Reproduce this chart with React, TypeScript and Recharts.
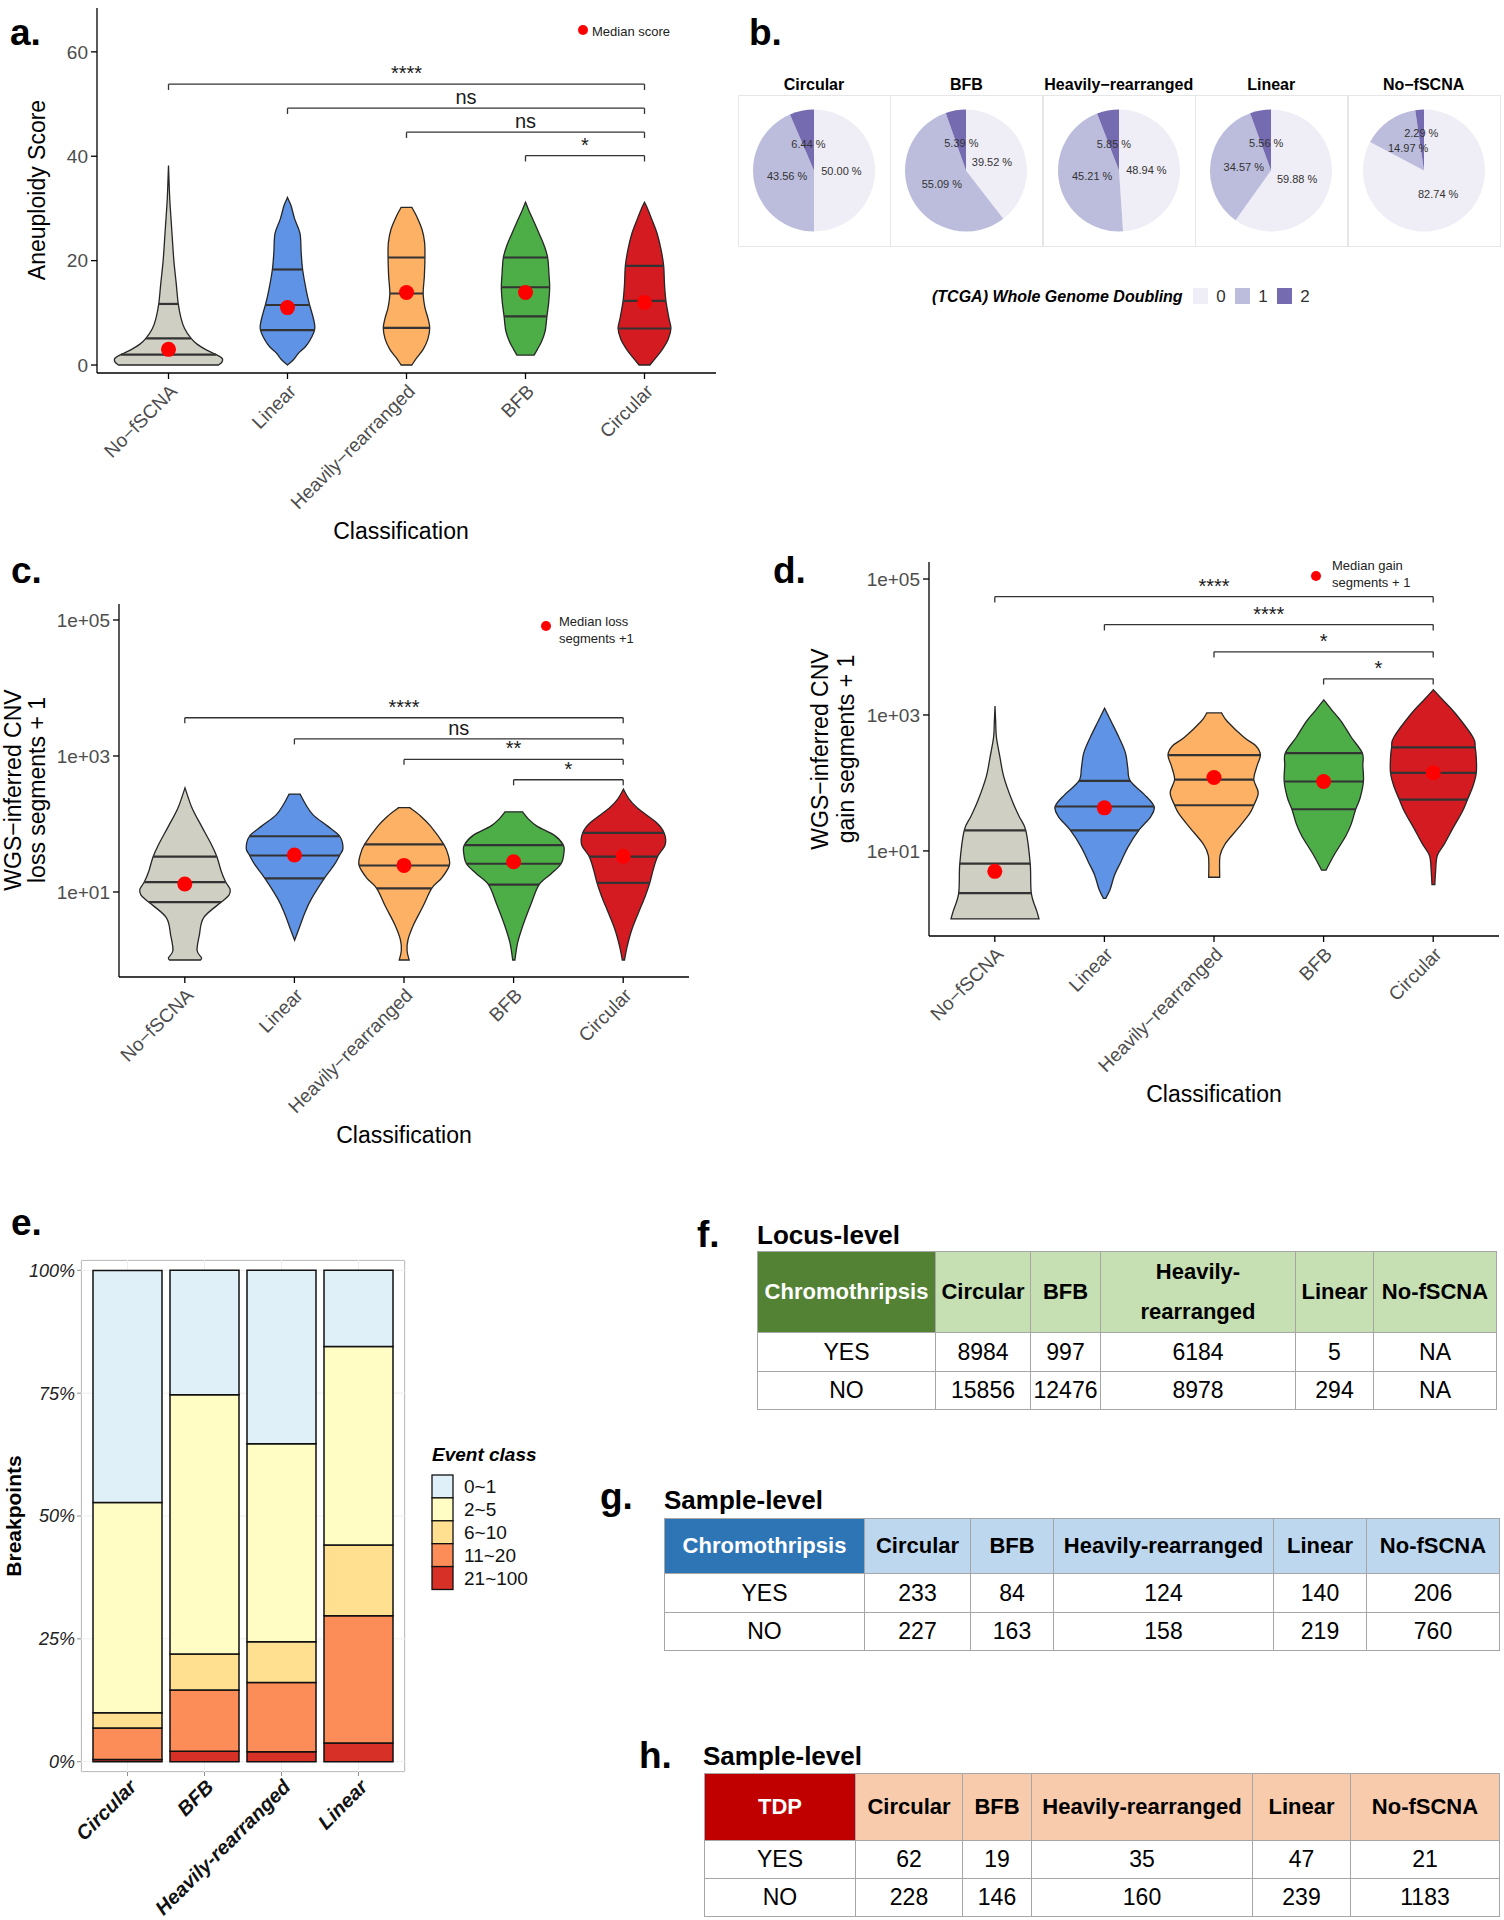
import React from "react";
import {
  ComposedChart,
  BarChart,
  PieChart,
  Pie,
  Cell,
  Bar,
  Scatter,
  XAxis,
  YAxis,
  ReferenceLine,
  CartesianGrid,
} from "recharts";

const FONT = "'Liberation Sans', Arial, Helvetica, sans-serif";

// ---------- panels a, c, d: classes ----------
const classes = ["No−fSCNA", "Linear", "Heavily−rearranged", "BFB", "Circular"];
const violinFill = ["#cfcfc3", "#5f93e6", "#fdb164", "#4dae48", "#d41b21"];

// a. aneuploidy score — violin outline as [value, relative half width]
const aneuploidyDensity: number[][][] = [
  [[0, 0.42], [0.6, 0.45], [1.3, 0.45], [2, 0.4], [3, 0.31], [4, 0.24], [5.1, 0.19], [7, 0.135], [9, 0.105], [11.7, 0.082], [15.6, 0.065], [20, 0.045], [25, 0.03], [28.4, 0.02], [32, 0.01], [38.2, 0]],
  [[0, 0], [1, 0.05], [2.2, 0.09], [3.5, 0.15], [4.8, 0.19], [6.7, 0.227], [8, 0.226], [10, 0.205], [11.5, 0.186], [14, 0.16], [18.3, 0.127], [21.5, 0.115], [25.2, 0.105], [28, 0.06], [30.5, 0.03], [32.1, 0]],
  [[0, 0.045], [1.5, 0.09], [3, 0.14], [5, 0.18], [7.1, 0.195], [9, 0.18], [11, 0.155], [13.7, 0.14], [17, 0.15], [20.6, 0.155], [23.5, 0.152], [26, 0.13], [28.5, 0.085], [30.2, 0.045]],
  [[1.9, 0.072], [3, 0.1], [4.5, 0.135], [6.5, 0.165], [9.3, 0.18], [12, 0.195], [14.9, 0.203], [17.5, 0.197], [20.6, 0.186], [23, 0.155], [25.2, 0.114], [27.5, 0.07], [29.5, 0.03], [31.2, 0]],
  [[0, 0.045], [1.5, 0.1], [3, 0.15], [5, 0.2], [7, 0.222], [9, 0.205], [12.3, 0.18], [15.5, 0.168], [19, 0.161], [22, 0.14], [25.2, 0.106], [28, 0.06], [30, 0.025], [31.2, 0]],
];
const aneuploidyQuartiles = [[2.0, 5.1, 11.7], [6.7, 11.5, 18.3], [7.1, 13.7, 20.6], [9.3, 14.9, 20.6], [7.0, 12.3, 19.0]];
const aneuploidyMedian = [3.0, 11.0, 13.9, 13.9, 12.0];
const aneuploidyBrackets = [
  { from: "No−fSCNA", to: "Circular", y: 53.8, tip: 52.7, label: "****" },
  { from: "Linear", to: "Circular", y: 49.2, tip: 48.1, label: "ns" },
  { from: "Heavily−rearranged", to: "Circular", y: 44.6, tip: 43.5, label: "ns" },
  { from: "BFB", to: "Circular", y: 40.1, tip: 39.0, label: "*" },
];

// c. loss segments + 1
const lossDensity: number[][][] = [
  [[1, 0.14], [1.08, 0.15], [1.38, 0.11], [2.3, 0.13], [4.2, 0.17], [7.1, 0.33], [9, 0.4], [11, 0.41], [14, 0.37], [20, 0.33], [33, 0.29], [50, 0.24], [93, 0.15], [170, 0.065], [340, 0]],
  [[1.95, 0], [2.9, 0.04], [4.8, 0.09], [7.8, 0.15], [15.9, 0.27], [25, 0.36], [34.7, 0.41], [44, 0.44], [66, 0.41], [93, 0.3], [135, 0.17], [195, 0.1], [275, 0.05]],
  [[1, 0.045], [1.38, 0.026], [2, 0.035], [3.3, 0.085], [6.1, 0.17], [11.3, 0.25], [16, 0.34], [24.5, 0.41], [35, 0.4], [50, 0.36], [93, 0.24], [135, 0.14], [174, 0.05]],
  [[1, 0.01], [1.8, 0.035], [3.3, 0.085], [6.9, 0.16], [12.8, 0.23], [18.5, 0.34], [26, 0.43], [37, 0.455], [49, 0.45], [68, 0.37], [93, 0.21], [120, 0.13], [151, 0.08]],
  [[1, 0.01], [1.6, 0.035], [2.9, 0.08], [6.1, 0.16], [8.8, 0.2], [13.6, 0.24], [21, 0.27], [33, 0.31], [50, 0.38], [74, 0.37], [105, 0.3], [170, 0.13], [234, 0.05], [325, 0]],
];
const lossQuartiles = [[7.1, 14, 33], [15.9, 34.4, 66], [11.3, 24.5, 50], [12.8, 26, 49], [13.6, 33, 74]];
const lossMedian = [13.1, 35, 24.6, 27.9, 33.5];
const lossBrackets = [
  { from: "No−fSCNA", to: "Circular", y: 3650, tip: 3030, label: "****" },
  { from: "Linear", to: "Circular", y: 1780, tip: 1480, label: "ns" },
  { from: "Heavily−rearranged", to: "Circular", y: 890, tip: 740, label: "**" },
  { from: "BFB", to: "Circular", y: 447, tip: 370, label: "*" },
];

// d. gain segments + 1
const gainDensity: number[][][] = [
  [[1, 0.4], [1.3, 0.38], [2.4, 0.33], [6.5, 0.32], [20, 0.28], [32, 0.22], [55, 0.155], [123, 0.08], [240, 0.045], [470, 0.013], [800, 0.006], [1350, 0]],
  [[2, 0.01], [2.7, 0.05], [4.4, 0.09], [7, 0.15], [11.2, 0.21], [20, 0.31], [32, 0.42], [45, 0.45], [68, 0.36], [107, 0.233], [170, 0.21], [275, 0.19], [470, 0.13], [800, 0.06], [1260, 0]],
  [[4.1, 0.05], [8.5, 0.053], [12.7, 0.1], [21.8, 0.22], [35, 0.32], [47, 0.36], [72, 0.4], [112, 0.36], [180, 0.39], [257, 0.42], [350, 0.38], [470, 0.27], [800, 0.12], [1070, 0.067]],
  [[5.2, 0.02], [8.5, 0.09], [16.6, 0.2], [25, 0.25], [41, 0.29], [60, 0.33], [105, 0.36], [180, 0.355], [275, 0.35], [470, 0.25], [800, 0.16], [1200, 0.07], [1670, 0]],
  [[3.2, 0.013], [5, 0.02], [8.5, 0.035], [12.7, 0.1], [22, 0.18], [37, 0.26], [57, 0.31], [90, 0.36], [141, 0.39], [230, 0.39], [333, 0.38], [470, 0.36], [1050, 0.2], [1700, 0.08], [2360, 0]],
];
const gainQuartiles = [[2.4, 6.5, 20], [20, 45, 107], [47, 112, 257], [41, 105, 275], [57, 141, 333]];
const gainMedian = [5.0, 43, 120, 105, 141];
const gainBrackets = [
  { from: "No−fSCNA", to: "Circular", y: 55000, tip: 45000, label: "****" },
  { from: "Linear", to: "Circular", y: 21400, tip: 17500, label: "****" },
  { from: "Heavily−rearranged", to: "Circular", y: 8500, tip: 7000, label: "*" },
  { from: "BFB", to: "Circular", y: 3400, tip: 2800, label: "*" },
];

// ---------- b. whole genome doubling ----------
const wgdClasses = ["Circular", "BFB", "Heavily−rearranged", "Linear", "No−fSCNA"];
const wgdLevels = ["0", "1", "2"];
const wgd0 = [50.0, 39.52, 48.94, 59.88, 82.74];
const wgd1 = [43.56, 55.09, 45.21, 34.57, 14.97];
const wgd2 = [6.44, 5.39, 5.85, 5.56, 2.29];
const wgdColors = ["#efedf5", "#bcbddc", "#756bb1"];

// ---------- e. breakpoints by event class ----------
const eventClasses = ["Circular", "BFB", "Heavily-rearranged", "Linear"];
const eventLevels = ["21~100", "11~20", "6~10", "2~5", "0~1"]; // bottom to top
const ev21_100 = [0.45, 2.1, 2.0, 3.8];
const ev11_20 = [6.4, 12.5, 14.1, 25.9];
const ev6_10 = [3.1, 7.3, 8.3, 14.4];
const ev2_5 = [42.8, 52.8, 40.3, 40.4];
const ev0_1 = [47.2, 25.3, 35.3, 15.5];
const eventColors = ["#d73027", "#fc8d59", "#fee090", "#fffcc4", "#e0f0f8"];

// ---------- f, g, h. tables ----------
const tableCols = ["Circular", "BFB", "Heavily-rearranged", "Linear", "No-fSCNA"];
const locusYes = ["8984", "997", "6184", "5", "NA"];
const locusNo = ["15856", "12476", "8978", "294", "NA"];
const chromoSampleYes = ["233", "84", "124", "140", "206"];
const chromoSampleNo = ["227", "163", "158", "219", "760"];
const tdpSampleYes = ["62", "19", "35", "47", "21"];
const tdpSampleNo = ["228", "146", "160", "239", "1183"];

// ---------- helpers ----------
function violinRows(density: number[][][], quartiles: number[][], medians: number[]) {
  return classes.map((name, i) => ({
    name,
    range: [density[i][0][0], density[i][density[i].length - 1][0]],
    density: density[i],
    quartiles: quartiles[i],
    median: medians[i],
  }));
}

function spline(pts: number[][], move: boolean) {
  let d = (move ? "M" : "L") + pts[0][0] + "," + pts[0][1];
  for (let i = 0; i < pts.length - 1; i++) {
    const p0 = pts[Math.max(0, i - 1)];
    const p1 = pts[i];
    const p2 = pts[i + 1];
    const p3 = pts[Math.min(pts.length - 1, i + 2)];
    const lo = Math.min(p1[1], p2[1]);
    const hi = Math.max(p1[1], p2[1]);
    const c1x = p1[0] + (p2[0] - p0[0]) / 6;
    const c1y = Math.min(hi, Math.max(lo, p1[1] + (p2[1] - p0[1]) / 6));
    const c2x = p2[0] - (p3[0] - p1[0]) / 6;
    const c2y = Math.min(hi, Math.max(lo, p2[1] - (p3[1] - p1[1]) / 6));
    d += ` C${c1x},${c1y} ${c2x},${c2y} ${p2[0]},${p2[1]}`;
  }
  return d;
}

function widthAt(profile: number[][], v: number, tf: (n: number) => number) {
  const t = tf(v);
  for (let i = 0; i < profile.length - 1; i++) {
    const a = tf(profile[i][0]);
    const b = tf(profile[i + 1][0]);
    if (t >= a && t <= b) {
      const k = b === a ? 0 : (t - a) / (b - a);
      return profile[i][1] + k * (profile[i + 1][1] - profile[i][1]);
    }
  }
  return 0;
}

const makeViolin = (log: boolean) => (props: any) => {
  const { x, y, width, height, payload, index } = props;
  if (!payload || !Number.isFinite(y) || !Number.isFinite(height)) return null;
  const tf = log ? Math.log10 : (n: number) => n;
  const [lo, hi] = payload.range;
  const top = Math.min(y, y + height);
  const bottom = Math.max(y, y + height);
  const py = (v: number) => bottom - ((bottom - top) * (tf(v) - tf(lo))) / (tf(hi) - tf(lo));
  const cx = x + width / 2;
  const prof: number[][] = payload.density;
  const right = prof.map(([v, w]) => [cx + w * width, py(v)]);
  const left = prof.slice().reverse().map(([v, w]) => [cx - w * width, py(v)]);
  const d = spline(right, true) + " " + spline(left, false) + " Z";
  return (
    <g>
      <path d={d} fill={violinFill[index]} stroke="#262626" strokeWidth={1.3} />
      {payload.quartiles.map((q: number, k: number) => {
        const w = widthAt(prof, q, tf) * width;
        return <line key={k} x1={cx - w} x2={cx + w} y1={py(q)} y2={py(q)} stroke="#333" strokeWidth={2.2} />;
      })}
    </g>
  );
};

const MedianDot = (p: any) =>
  Number.isFinite(p.cx) && Number.isFinite(p.cy) ? <circle cx={p.cx} cy={p.cy} r={7.5} fill="#ff0000" /> : null;

const SlantTick = (p: any) => {
  const { x, y, payload, color, weight, italic, size } = p;
  return (
    <text
      x={x}
      y={y}
      transform={`rotate(-45 ${x} ${y})`}
      textAnchor="end"
      dominantBaseline="hanging"
      fill={color}
      fontSize={size || 19}
      fontWeight={weight}
      fontStyle={italic ? "italic" : undefined}
    >
      {payload.value}
    </text>
  );
};

const BracketLabel = (p: any) => {
  const vb = p.viewBox || { x: 0, y: 0, width: 0 };
  return (
    <text x={vb.x + vb.width / 2} y={vb.y - 4} textAnchor="middle" fontSize={20} fill="#1a1a1a">
      {p.text}
    </text>
  );
};

const logTick = (v: number) => "1e+" + String(Math.round(Math.log10(v))).padStart(2, "0");

function ViolinPanel(props: any) {
  const { rows, brackets, log, domain, ticks, width, height, margin, pad, xh } = props;
  const axisStyle = { stroke: "#000", strokeWidth: 1.3 };
  return (
    <ComposedChart width={width} height={height} data={rows} margin={margin} barCategoryGap={0} barGap={0}>
      <XAxis
        dataKey="name"
        type="category"
        interval={0}
        height={xh}
        padding={{ left: pad, right: pad }}
        axisLine={axisStyle}
        tickLine={axisStyle}
        tickSize={6}
        tickMargin={4}
        tick={(p: any) => <SlantTick {...p} color="#4d4d4d" />}
      />
      <YAxis
        type="number"
        scale={log ? "log" : "linear"}
        domain={domain}
        allowDataOverflow
        ticks={ticks}
        tickFormatter={log ? logTick : undefined}
        width={70}
        axisLine={axisStyle}
        tickLine={axisStyle}
        tickSize={6}
        tickMargin={3}
        tick={{ fill: "#4d4d4d", fontSize: 19 }}
      />
      <Bar dataKey="range" shape={makeViolin(log)} isAnimationActive={false} />
      <Scatter dataKey="median" shape={MedianDot} isAnimationActive={false} />
      {brackets.flatMap((b: any, k: number) => [
        <ReferenceLine
          key={`h${k}`}
          segment={[{ x: b.from, y: b.y }, { x: b.to, y: b.y }]}
          stroke="#333"
          strokeWidth={1.3}
          label={<BracketLabel text={b.label} />}
        />,
        <ReferenceLine key={`l${k}`} segment={[{ x: b.from, y: b.y }, { x: b.from, y: b.tip }]} stroke="#333" strokeWidth={1.3} />,
        <ReferenceLine key={`r${k}`} segment={[{ x: b.to, y: b.y }, { x: b.to, y: b.tip }]} stroke="#333" strokeWidth={1.3} />,
      ])}
    </ComposedChart>
  );
}

const RAD = Math.PI / 180;
const pieLabel = (p: any) => {
  // tiny slices get their label pushed a bit further out so it stays clear of its neighbour
  const r = p.outerRadius * (p.percent < 0.05 ? 0.62 : 0.45);
  const x = p.cx + r * Math.cos(-p.midAngle * RAD);
  const y = p.cy + r * Math.sin(-p.midAngle * RAD);
  return (
    <text x={x} y={y} textAnchor="middle" dominantBaseline="central" fontSize={11} fill="#333">
      {Number(p.value).toFixed(2)} %
    </text>
  );
};

function CountTable(props: any) {
  const { left, top, widths, heights, headFirstFill, headFill, corner, header, yes, no, headLine } = props;
  const cell: React.CSSProperties = {
    border: "1.5px solid #a6a6a6",
    padding: 0,
    textAlign: "center",
    verticalAlign: "middle",
    whiteSpace: "pre-line",
    overflow: "visible",
  };
  const total = widths.reduce((s: number, w: number) => s + w, 0);
  return (
    <table
      style={{
        position: "absolute",
        left,
        top,
        width: total,
        borderCollapse: "collapse",
        tableLayout: "fixed",
        fontFamily: FONT,
        color: "#000",
      }}
    >
      <colgroup>
        {widths.map((w: number, i: number) => (
          <col key={i} style={{ width: w }} />
        ))}
      </colgroup>
      <tbody>
        <tr style={{ height: heights[0] }}>
          <td style={{ ...cell, background: headFirstFill, color: "#fff", fontWeight: "bold", fontSize: 22, whiteSpace: "nowrap" }}>
            {corner}
          </td>
          {header.map((h: string, i: number) => (
            <td key={i} style={{ ...cell, background: headFill, fontWeight: "bold", fontSize: 22, lineHeight: headLine }}>
              {h}
            </td>
          ))}
        </tr>
        <tr style={{ height: heights[1] }}>
          <td style={{ ...cell, fontSize: 23 }}>YES</td>
          {yes.map((v: string, i: number) => (
            <td key={i} style={{ ...cell, fontSize: 23 }}>
              {v}
            </td>
          ))}
        </tr>
        <tr style={{ height: heights[2] }}>
          <td style={{ ...cell, fontSize: 23 }}>NO</td>
          {no.map((v: string, i: number) => (
            <td key={i} style={{ ...cell, fontSize: 23 }}>
              {v}
            </td>
          ))}
        </tr>
      </tbody>
    </table>
  );
}

const Txt = (p: any) => (
  <text
    x={p.x}
    y={p.y}
    fontSize={p.size}
    fontWeight={p.bold ? "bold" : undefined}
    fontStyle={p.italic ? "italic" : undefined}
    textAnchor={p.anchor || "start"}
    dominantBaseline={p.baseline}
    fill={p.fill || "#000"}
    transform={p.rotate ? `rotate(${p.rotate} ${p.x} ${p.y})` : undefined}
  >
    {p.children}
  </text>
);

export default function App() {
  const aRows = violinRows(aneuploidyDensity, aneuploidyQuartiles, aneuploidyMedian);
  const cRows = violinRows(lossDensity, lossQuartiles, lossMedian);
  const dRows = violinRows(gainDensity, gainQuartiles, gainMedian);
  const eRows = eventClasses.map((name, i) => ({
    name,
    c0: ev21_100[i],
    c1: ev11_20[i],
    c2: ev6_10[i],
    c3: ev2_5[i],
    c4: ev0_1[i],
  }));
  const eKeys = ["c0", "c1", "c2", "c3", "c4"];

  return (
    <div style={{ position: "absolute", left: 0, top: 0, width: 1504, height: 1920, background: "#fff", fontFamily: FONT, overflow: "hidden" }}>
      {/* a */}
      <div style={{ position: "absolute", left: 0, top: 0 }}>
        <ViolinPanel
          rows={aRows}
          brackets={aneuploidyBrackets}
          log={false}
          domain={[-1.53, 68.4]}
          ticks={[0, 20, 40, 60]}
          width={720}
          height={560}
          margin={{ top: 8, right: 4, bottom: 47, left: 27 }}
          pad={12}
          xh={140}
        />
      </div>

      {/* c */}
      <div style={{ position: "absolute", left: 0, top: 590 }}>
        <ViolinPanel
          rows={cRows}
          brackets={lossBrackets}
          log={true}
          domain={[0.562, 171800]}
          ticks={[10, 1000, 100000]}
          width={740}
          height={570}
          margin={{ top: 14, right: 51, bottom: 33, left: 49 }}
          pad={11}
          xh={150}
        />
      </div>

      {/* d */}
      <div style={{ position: "absolute", left: 740, top: 500 }}>
        <ViolinPanel
          rows={dRows}
          brackets={gainBrackets}
          log={true}
          domain={[0.56, 178000]}
          ticks={[10, 1000, 100000]}
          width={764}
          height={620}
          margin={{ top: 62, right: 5, bottom: 34, left: 119 }}
          pad={11}
          xh={150}
        />
      </div>

      {/* b */}
      {wgdClasses.map((c, i) => {
        const data = wgdLevels.map((lv, j) => ({ name: lv, value: [wgd0, wgd1, wgd2][j][i] }));
        return (
          <div
            key={c}
            style={{
              position: "absolute",
              left: 738 + i * 152.4,
              top: 95,
              width: 153,
              height: 152,
              border: "1px solid #e6e6e6",
              boxSizing: "border-box",
            }}
          >
            <PieChart width={151} height={150} margin={{ top: 0, right: 0, bottom: 0, left: 0 }}>
              <Pie
                data={data}
                dataKey="value"
                cx={75}
                cy={74.5}
                innerRadius={0}
                outerRadius={61}
                startAngle={90}
                endAngle={-270}
                stroke="none"
                isAnimationActive={false}
                labelLine={false}
                label={pieLabel}
              >
                {data.map((d, j) => (
                  <Cell key={d.name} fill={wgdColors[j]} />
                ))}
              </Pie>
            </PieChart>
          </div>
        );
      })}

      {/* e */}
      <div
        style={{
          position: "absolute",
          left: 81,
          top: 1260,
          width: 324,
          height: 512,
          border: "1.3px solid #8f8f8f",
          boxSizing: "border-box",
        }}
      />
      <div style={{ position: "absolute", left: 0, top: 1230 }}>
        <BarChart width={620} height={690} data={eRows} margin={{ top: 30, right: 215, bottom: 18, left: 11 }} barSize={69}>
          <CartesianGrid stroke="#eeeeee" />
          <XAxis
            dataKey="name"
            interval={0}
            height={130}
            padding={{ left: 8, right: 8 }}
            axisLine={false}
            tickLine={{ stroke: "#8f8f8f" }}
            tickSize={4}
            tickMargin={2}
            tick={(p: any) => <SlantTick {...p} color="#111" weight="bold" italic size={20} />}
          />
          <YAxis
            type="number"
            domain={[-2.1, 102.1]}
            allowDataOverflow
            ticks={[0, 25, 50, 75, 100]}
            tickFormatter={(v: number) => `${v}%`}
            width={70}
            axisLine={false}
            tickLine={{ stroke: "#8f8f8f" }}
            tickSize={4}
            tickMargin={2}
            tick={{ fill: "#222", fontSize: 18, fontStyle: "italic" }}
          />
          {eKeys.map((k, j) => (
            <Bar key={k} dataKey={k} name={eventLevels[j]} stackId="s" fill={eventColors[j]} stroke="#111" strokeWidth={1.5} isAnimationActive={false} />
          ))}
        </BarChart>
      </div>

      {/* tables */}
      <CountTable
        left={757}
        top={1251}
        widths={[178, 95, 70, 195, 78, 123]}
        heights={[77, 39, 38]}
        headFirstFill="#548235"
        headFill="#c6e0b4"
        corner="Chromothripsis"
        header={["Circular", "BFB", "Heavily-\nrearranged", "Linear", "No-fSCNA"]}
        headLine="40px"
        yes={locusYes}
        no={locusNo}
      />
      <CountTable
        left={664}
        top={1518}
        widths={[200, 106, 83, 220, 93, 133]}
        heights={[55, 39, 38]}
        headFirstFill="#2e75b6"
        headFill="#bdd7ee"
        corner="Chromothripsis"
        header={tableCols}
        headLine="normal"
        yes={chromoSampleYes}
        no={chromoSampleNo}
      />
      <CountTable
        left={704}
        top={1773}
        widths={[151, 107, 69, 221, 98, 149]}
        heights={[67, 38, 38]}
        headFirstFill="#c00000"
        headFill="#f8cbad"
        corner="TDP"
        header={tableCols}
        headLine="normal"
        yes={tdpSampleYes}
        no={tdpSampleNo}
      />

      {/* text overlay: panel letters, axis titles, legends */}
      <svg width={1504} height={1920} style={{ position: "absolute", left: 0, top: 0, pointerEvents: "none" }}>
        <Txt x={10} y={45} size={37} bold>a.</Txt>
        <Txt x={749} y={45} size={37} bold>b.</Txt>
        <Txt x={11} y={583} size={37} bold>c.</Txt>
        <Txt x={773} y={583} size={37} bold>d.</Txt>
        <Txt x={11} y={1235} size={37} bold>e.</Txt>
        <Txt x={697} y={1247} size={37} bold>f.</Txt>
        <Txt x={600} y={1509} size={37} bold>g.</Txt>
        <Txt x={639} y={1768} size={37} bold>h.</Txt>

        <Txt x={757} y={1244} size={26} bold>Locus-level</Txt>
        <Txt x={664} y={1509} size={26} bold>Sample-level</Txt>
        <Txt x={703} y={1765} size={26} bold>Sample-level</Txt>

        {/* a */}
        <Txt x={37} y={190} size={23} anchor="middle" baseline="central" rotate={-90}>Aneuploidy Score</Txt>
        <Txt x={401} y={531} size={23} anchor="middle" baseline="central">Classification</Txt>
        <circle cx={583} cy={30} r={5} fill="#ff0000" />
        <Txt x={592} y={31} size={13} baseline="central" fill="#222">Median score</Txt>

        {/* c */}
        <Txt x={13} y={790} size={23} anchor="middle" baseline="central" rotate={-90}>WGS−inferred CNV</Txt>
        <Txt x={37} y={790} size={23} anchor="middle" baseline="central" rotate={-90}>loss segments + 1</Txt>
        <Txt x={404} y={1135} size={23} anchor="middle" baseline="central">Classification</Txt>
        <circle cx={546} cy={626} r={5} fill="#ff0000" />
        <Txt x={559} y={621} size={13} baseline="central" fill="#222">Median loss</Txt>
        <Txt x={559} y={638} size={13} baseline="central" fill="#222">segments +1</Txt>

        {/* d */}
        <Txt x={820} y={749} size={23} anchor="middle" baseline="central" rotate={-90}>WGS−inferred CNV</Txt>
        <Txt x={846} y={749} size={23} anchor="middle" baseline="central" rotate={-90}>gain segments + 1</Txt>
        <Txt x={1214} y={1094} size={23} anchor="middle" baseline="central">Classification</Txt>
        <circle cx={1316} cy={576} r={5} fill="#ff0000" />
        <Txt x={1332} y={565} size={13} baseline="central" fill="#222">Median gain</Txt>
        <Txt x={1332} y={582} size={13} baseline="central" fill="#222">segments + 1</Txt>

        {/* b */}
        {wgdClasses.map((c, i) => (
          <Txt key={c} x={814 + i * 152.4} y={90} size={16} bold anchor="middle">{c}</Txt>
        ))}
        <Txt x={932} y={296} size={16} bold italic baseline="central">(TCGA) Whole Genome Doubling</Txt>
        {wgdLevels.map((lv, j) => (
          <g key={lv}>
            <rect x={1193 + j * 42} y={288} width={15} height={16} fill={wgdColors[j]} />
            <Txt x={1221 + j * 42} y={296} size={17} anchor="middle" baseline="central" fill="#333">{lv}</Txt>
          </g>
        ))}

        {/* e */}
        <Txt x={13} y={1516} size={21} bold anchor="middle" baseline="central" rotate={-90}>Breakpoints</Txt>
        <Txt x={432} y={1461} size={19} bold italic>Event class</Txt>
        {eventLevels
          .slice()
          .reverse()
          .map((lv, j) => (
            <g key={lv}>
              <rect
                x={432}
                y={1475 + j * 22.9}
                width={21}
                height={22.9}
                fill={eventColors[eventColors.length - 1 - j]}
                stroke="#111"
                strokeWidth={1.3}
              />
              <Txt x={464} y={1475 + j * 22.9 + 11.5} size={19} baseline="central" fill="#111">{lv}</Txt>
            </g>
          ))}
      </svg>
    </div>
  );
}
